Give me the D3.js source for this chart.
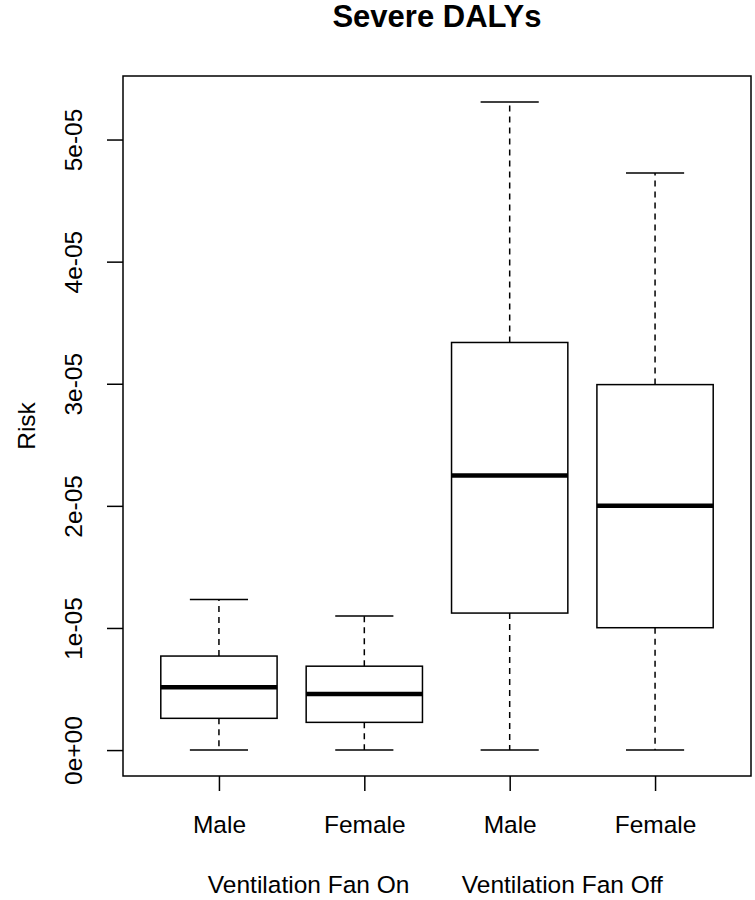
<!DOCTYPE html>
<html>
<head>
<meta charset="utf-8">
<script src="https://cdn.jsdelivr.net/npm/d3@7"></script>
<style>
  html, body { margin: 0; padding: 0; background: #fff; }
  svg { display: block; }
  text { font-family: "Liberation Sans", Arial, sans-serif; fill: #000; }
</style>
</head>
<body>
<script>
// ---- data ----
const title = "Severe DALYs";
const yLabel = "Risk";
const groupLabels = ["Ventilation Fan On", "Ventilation Fan Off"];
const categories = ["Male", "Female", "Male", "Female"];
const mins    = [0, 0, 0, 0];
const q1s     = [0.260e-5, 0.227e-5, 1.122e-5, 1.002e-5];
const medians = [0.515e-5, 0.460e-5, 2.248e-5, 2.000e-5];
const q3s     = [0.770e-5, 0.687e-5, 3.338e-5, 2.993e-5];
const maxs    = [1.233e-5, 1.098e-5, 5.308e-5, 4.725e-5];
const yTicks = [0, 1e-5, 2e-5, 3e-5, 4e-5, 5e-5];
const yTickLabels = ["0e+00", "1e-05", "2e-05", "3e-05", "4e-05", "5e-05"];

const W = 755, H = 900;
const plot = { left: 123, right: 751, top: 76, bottom: 776 };

const svg = d3.select("body").append("svg").attr("width", W).attr("height", H);

// R-style 4% axis extension
const n = categories.length;
const xScale = d3.scaleLinear()
  .domain([0.5 - 0.04 * n, n + 0.5 + 0.04 * n])
  .range([plot.left, plot.right]);
const dataMax = d3.max(maxs), dataMin = d3.min(mins);
const ext = 0.04 * (dataMax - dataMin);
const yScale = d3.scaleLinear()
  .domain([dataMin - ext, dataMax + ext])
  .range([plot.bottom, plot.top]);

const boxes = categories.map((c, i) => ({
  pos: i + 1, cat: c, min: mins[i], q1: q1s[i], med: medians[i], q3: q3s[i], max: maxs[i]
}));
const boxW = 0.8, capW = 0.4;

const g = svg.append("g");
const stroke = "#000";

// whiskers (dashed)
boxes.forEach(b => {
  const cx = xScale(b.pos);
  [[b.q3, b.max], [b.q1, b.min]].forEach(([a, e]) => {
    g.append("line").attr("x1", cx).attr("x2", cx)
      .attr("y1", yScale(a)).attr("y2", yScale(e))
      .attr("stroke", stroke).attr("stroke-width", 1.5)
      .attr("stroke-dasharray", "6,5");
  });
  [b.max, b.min].forEach(v => {
    g.append("line")
      .attr("x1", xScale(b.pos - capW / 2)).attr("x2", xScale(b.pos + capW / 2))
      .attr("y1", yScale(v)).attr("y2", yScale(v))
      .attr("stroke", stroke).attr("stroke-width", 1.5);
  });
  g.append("rect")
    .attr("x", xScale(b.pos - boxW / 2))
    .attr("width", xScale(b.pos + boxW / 2) - xScale(b.pos - boxW / 2))
    .attr("y", yScale(b.q3))
    .attr("height", yScale(b.q1) - yScale(b.q3))
    .attr("fill", "#fff").attr("stroke", stroke).attr("stroke-width", 1.5);
  g.append("line")
    .attr("x1", xScale(b.pos - boxW / 2)).attr("x2", xScale(b.pos + boxW / 2))
    .attr("y1", yScale(b.med)).attr("y2", yScale(b.med))
    .attr("stroke", stroke).attr("stroke-width", 4.5);
});

// plot frame
svg.append("rect")
  .attr("x", plot.left).attr("y", plot.top)
  .attr("width", plot.right - plot.left).attr("height", plot.bottom - plot.top)
  .attr("fill", "none").attr("stroke", stroke).attr("stroke-width", 1.5);

// y axis
const yAxis = d3.axisLeft(yScale).tickValues(yTicks)
  .tickFormat((d, i) => yTickLabels[i]).tickSize(16).tickPadding(0);
const ya = svg.append("g").attr("transform", `translate(${plot.left},0)`).call(yAxis);
ya.select(".domain").remove();
ya.selectAll(".tick line").attr("stroke", stroke).attr("stroke-width", 1.5);
ya.selectAll(".tick text")
  .attr("x", 0).attr("dy", null)
  .attr("transform", "translate(-41,0) rotate(-90)")
  .attr("text-anchor", "middle")
  .style("font-size", "24.5px")
  .style("font-family", "'Liberation Sans', Arial, sans-serif")
  .attr("fill", "#000");

// x axis
const xAxis = d3.axisBottom(xScale).tickValues(boxes.map(b => b.pos))
  .tickFormat((d, i) => categories[i]).tickSize(15).tickPadding(0);
const xa = svg.append("g").attr("transform", `translate(0,${plot.bottom})`).call(xAxis);
xa.select(".domain").remove();
xa.selectAll(".tick line").attr("stroke", stroke).attr("stroke-width", 1.5);
xa.selectAll(".tick text")
  .attr("y", 57).attr("dy", null)
  .style("font-size", "24.5px")
  .style("font-family", "'Liberation Sans', Arial, sans-serif")
  .attr("fill", "#000");

// group label (xlab)
const groupX = [
  (xScale(1) + xScale(2)) / 2 + 17,
  (xScale(3) + xScale(4)) / 2 - 20
];
groupLabels.forEach((t, i) => {
  svg.append("text").attr("x", groupX[i]).attr("y", 893)
    .attr("text-anchor", "middle").style("font-size", "24.5px").text(t);
});

// y label
svg.append("text")
  .attr("transform", `translate(35,${(plot.top + plot.bottom) / 2}) rotate(-90)`)
  .attr("text-anchor", "middle").style("font-size", "24.5px").text(yLabel);

// title
svg.append("text")
  .attr("x", (plot.left + plot.right) / 2).attr("y", 27)
  .attr("text-anchor", "middle").style("font-size", "31px").style("font-weight", "bold")
  .text(title);
</script>
</body>
</html>
